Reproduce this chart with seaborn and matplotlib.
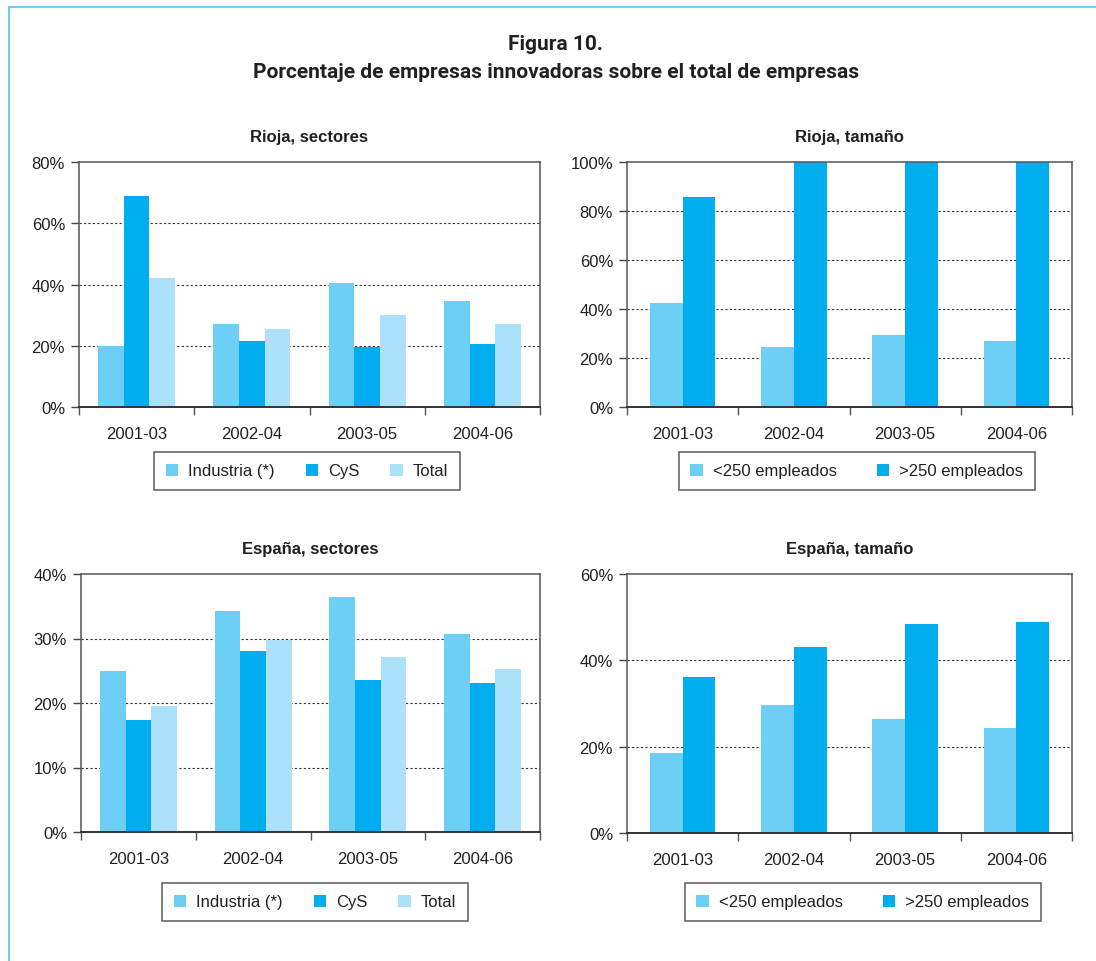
import matplotlib
matplotlib.use("Agg")
import matplotlib.pyplot as plt
from matplotlib.patches import Patch, Rectangle
from matplotlib.ticker import PercentFormatter, FixedLocator
import seaborn as sns
import pandas as pd

# ---- data -------------------------------------------------------------
periods = ["2001-03", "2002-04", "2003-05", "2004-06"]

sector_labels = ["Industria (*)", "CyS", "Total"]
rioja_industria = [19.9, 27.2, 40.5, 34.6]
rioja_cys = [68.8, 21.5, 19.5, 20.5]
rioja_total = [42.2, 25.4, 30.1, 27.2]

size_labels = ["<250 empleados", ">250 empleados"]
rioja_pequenas = [42.4, 24.4, 29.3, 26.9]
rioja_grandes = [85.8, 100.0, 100.0, 100.0]

espana_industria = [25.0, 34.3, 36.4, 30.7]
espana_cys = [17.4, 28.1, 23.6, 23.1]
espana_total = [19.6, 29.8, 27.1, 25.3]

espana_pequenas = [18.6, 29.7, 26.5, 24.4]
espana_grandes = [36.2, 43.1, 48.4, 48.9]

sector_colors = ["#6dcff6", "#00aeef", "#abe1fa"]
size_colors = ["#6dcff6", "#00aeef"]


def long_frame(labels, series):
    rows = []
    for lab, vals in zip(labels, series):
        for p, v in zip(periods, vals):
            rows.append({"periodo": p, "serie": lab, "valor": v})
    return pd.DataFrame(rows)


sns.set_theme(style="white")
plt.rcParams["font.family"] = ["Liberation Sans", "DejaVu Sans"]

W, H = 1096, 962
fig = plt.figure(figsize=(W / 100, H / 100), dpi=100)


def px_axes(left, top, right, bottom):
    return fig.add_axes([left / W, 1 - bottom / H, (right - left) / W, (bottom - top) / H])


def draw_panel(ax, df, labels, colors, ymax, step, width, title, legend_center, colsp):
    sns.barplot(data=df, x="periodo", y="valor", hue="serie", hue_order=labels,
                order=periods, palette=colors, width=width, saturation=1,
                ax=ax, legend=False, linewidth=0)
    ax.set_xlim(-0.5, len(periods) - 0.5)
    ax.set_ylim(0, ymax)
    ax.set_xlabel("")
    ax.set_ylabel("")
    ax.set_yticks(list(range(0, ymax + 1, step)))
    ax.yaxis.set_major_formatter(PercentFormatter(xmax=100, decimals=0))
    ax.tick_params(axis="y", which="major", left=True, length=6, width=1,
                   color="#444444", labelsize=12, labelcolor="#231f20", pad=4)
    ax.tick_params(axis="x", which="major", bottom=False, labelsize=12,
                   labelcolor="#231f20", pad=8)
    ax.xaxis.set_minor_locator(FixedLocator([i - 0.5 for i in range(len(periods) + 1)]))
    ax.tick_params(axis="x", which="minor", bottom=True, length=6, width=1,
                   color="#555555")
    # dotted guide lines at the inner ticks only
    for y in range(step, ymax, step):
        ax.axhline(y, linestyle=(0, (2, 2)), color="#333333", linewidth=0.8, zorder=0.5)
    ax.set_axisbelow(True)
    for side, sp in ax.spines.items():
        sp.set_visible(True)
        sp.set_color("#555555")
        sp.set_linewidth(1.1)
    ax.spines["bottom"].set_color("#333333")
    ax.spines["bottom"].set_linewidth(1.4)
    ax.set_title(title, fontsize=12, fontweight="bold", color="#231f20", pad=15)

    handles = [Patch(facecolor=c, edgecolor="none", label=l) for l, c in zip(labels, colors)]
    cx, cy = legend_center
    leg = fig.legend(handles=handles, loc="center",
                     bbox_to_anchor=(cx / W, 1 - cy / H), ncol=len(labels),
                     fontsize=12, frameon=True, fancybox=False, handlelength=0.75,
                     handleheight=0.75, handletextpad=0.6, columnspacing=colsp,
                     borderpad=0.7, borderaxespad=0)
    leg.get_frame().set_edgecolor("#333333")
    leg.get_frame().set_linewidth(1.1)
    for t in leg.get_texts():
        t.set_color("#231f20")


ax1 = px_axes(79, 163, 540, 408)
ax2 = px_axes(627, 163, 1072, 408)
ax3 = px_axes(81, 575, 540, 833)
ax4 = px_axes(627, 575, 1072, 834)

draw_panel(ax1, long_frame(sector_labels, [rioja_industria, rioja_cys, rioja_total]),
           sector_labels, sector_colors, 80, 20, 0.67, "Rioja, sectores", (307, 472), 1.85)
draw_panel(ax2, long_frame(size_labels, [rioja_pequenas, rioja_grandes]),
           size_labels, size_colors, 100, 20, 0.59, "Rioja, tamaño", (857, 472), 2.4)
draw_panel(ax3, long_frame(sector_labels, [espana_industria, espana_cys, espana_total]),
           sector_labels, sector_colors, 40, 10, 0.67, "España, sectores", (315, 903), 1.85)
draw_panel(ax4, long_frame(size_labels, [espana_pequenas, espana_grandes]),
           size_labels, size_colors, 60, 20, 0.59, "España, tamaño", (863, 903), 2.4)

# page frame
fig.patches.append(Rectangle((9 / W, -0.1), 1.2, 1 - 8 / H + 0.1,
                             transform=fig.transFigure, fill=False,
                             edgecolor="#6dcff6", linewidth=1.5))

title_font = ["Roboto", "Liberation Sans", "DejaVu Sans"]
fig.text(556 / W, 1 - 44 / H, "Figura 10.", ha="center", va="center",
         fontsize=15, fontweight="bold", family=title_font, color="#231f20")
fig.text(556 / W, 1 - 73 / H, "Porcentaje de empresas innovadoras sobre el total de empresas",
         ha="center", va="center", fontsize=15, fontweight="bold",
         family=title_font, color="#231f20")

fig.savefig("out.png", dpi=100)
